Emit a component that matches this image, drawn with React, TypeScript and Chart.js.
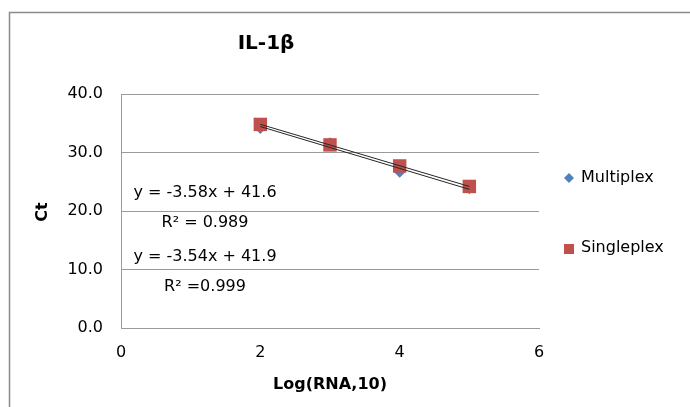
import React, { useEffect, useRef } from "react";
import { Chart, registerables } from "chart.js";

Chart.register(...registerables);

const titleText = "IL-1β";
const xAxisTitle = "Log(RNA,10)";
const yAxisTitle = "Ct";
const logRna = [2, 3, 4, 5];
const multiplexCt = [34.2, 31.6, 26.7, 23.9];
const singleplexCt = [34.8, 31.3, 27.7, 24.2];
const trendX = [2, 5];
const multiplexTrend = [34.44, 23.7];
const singleplexTrend = [34.82, 24.2];
const equationLabels = ["y = -3.58x + 41.6", "R² = 0.989", "y = -3.54x + 41.9", "R² =0.999"];
const seriesNames = ["Multiplex", "Singleplex"];

const BLUE = "#4F81BD";
const RED = "#C0504D";
const FONT = "'DejaVu Sans', Verdana, sans-serif";

const overlay = {
  id: "overlay",
  afterDraw(chart: any) {
    const ctx = chart.ctx;
    ctx.save();
    // outer border
    ctx.strokeStyle = "#8a8a8a";
    ctx.lineWidth = 1.5;
    ctx.strokeRect(9.5, 12.5, 700, 420);
    ctx.fillStyle = "#000";
    // title
    ctx.font = `bold 20px ${FONT}`;
    ctx.textAlign = "center";
    ctx.textBaseline = "middle";
    ctx.fillText(titleText, 266, 44);
    // x title
    ctx.font = `bold 16px ${FONT}`;
    ctx.fillText(xAxisTitle, 330, 385);
    // y title
    ctx.save();
    ctx.translate(43, 212);
    ctx.rotate(-Math.PI / 2);
    ctx.fillText(yAxisTitle, 0, 0);
    ctx.restore();
    // equations
    ctx.font = `16px ${FONT}`;
    const ys = [193, 223, 257, 287];
    const xs = [205, 205, 205, 205];
    equationLabels.forEach((t, i) => ctx.fillText(t, xs[i], ys[i]));
    // legend
    ctx.textAlign = "left";
    ctx.fillStyle = "#000";
    ctx.fillText(seriesNames[0], 581, 178);
    ctx.fillText(seriesNames[1], 581, 248);
    ctx.fillStyle = BLUE;
    ctx.beginPath();
    ctx.moveTo(569, 173);
    ctx.lineTo(574, 178);
    ctx.lineTo(569, 183);
    ctx.lineTo(564, 178);
    ctx.closePath();
    ctx.fill();
    ctx.fillStyle = RED;
    ctx.fillRect(564, 244, 10, 10);
    ctx.restore();
  },
};

export default function App() {
  const ref = useRef<HTMLCanvasElement>(null);
  useEffect(() => {
    if (!ref.current) return;
    const chart = new Chart(ref.current, {
      type: "scatter",
      data: {
        datasets: [
          {
            label: "Multiplex trend",
            type: "line",
            data: trendX.map((x, i) => ({ x, y: multiplexTrend[i] })),
            borderColor: "#262626",
            borderWidth: 1,
            pointRadius: 0,
            showLine: true,
            order: 0,
          },
          {
            label: "Singleplex trend",
            type: "line",
            data: trendX.map((x, i) => ({ x, y: singleplexTrend[i] })),
            borderColor: "#262626",
            borderWidth: 1,
            pointRadius: 0,
            showLine: true,
            order: 0,
          },
          {
            label: seriesNames[1],
            data: logRna.map((x, i) => ({ x, y: singleplexCt[i] })),
            pointStyle: "rect",
            pointRadius: 9.5,
            backgroundColor: RED,
            borderColor: RED,
            borderWidth: 0,
            order: 1,
          },
          {
            label: seriesNames[0],
            data: logRna.map((x, i) => ({ x, y: multiplexCt[i] })),
            pointStyle: "rectRot",
            pointRadius: 6,
            backgroundColor: BLUE,
            borderColor: BLUE,
            borderWidth: 0,
            order: 2,
          },
        ],
      },
      options: {
        animation: false,
        responsive: false,
        devicePixelRatio: 1,
        layout: { padding: { left: 0, top: 94, right: 151, bottom: 0 } },
        plugins: { legend: { display: false }, tooltip: { enabled: false }, title: { display: false } },
        scales: {
          x: {
            type: "linear",
            min: 0,
            max: 6,
            ticks: { stepSize: 2, color: "#000", font: { family: FONT, size: 16 }, padding: 15 },
            grid: { display: false, drawTicks: false },
            border: { display: true, color: "#9a9a9a", width: 1 },
            afterFit: (s: any) => { s.height = 79; },
          },
          y: {
            min: 0,
            max: 40,
            ticks: { stepSize: 10, color: "#000", font: { family: FONT, size: 16 }, padding: 18, callback: (v: any) => Number(v).toFixed(1) },
            grid: { color: "#9a9a9a", drawTicks: false, lineWidth: 1 },
            border: { display: true, color: "#9a9a9a", width: 1 },
            afterFit: (s: any) => { s.width = 121; },
          },
        },
      },
      plugins: [overlay],
    });
    return () => chart.destroy();
  }, []);
  return (
    <div style={{ position: "fixed", left: 0, top: 0, width: 690, height: 407, background: "#fff" }}>
      <canvas ref={ref} width={690} height={407} style={{ display: "block" }} />
    </div>
  );
}
